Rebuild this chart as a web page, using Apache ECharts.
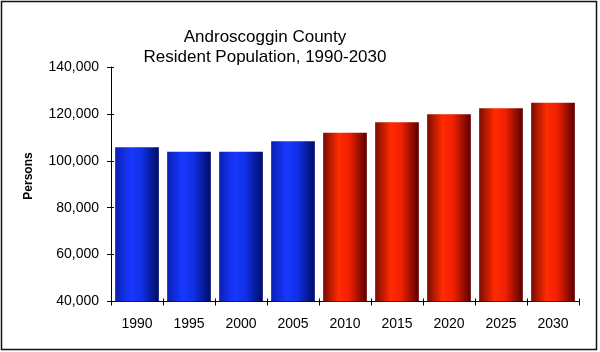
<!DOCTYPE html>
<html>
<head>
<meta charset="utf-8">
<script src="https://cdn.jsdelivr.net/npm/echarts@6/dist/echarts.min.js"></script>
<style>
  html, body { margin: 0; padding: 0; background: #fff; }
  #chart { width: 600px; height: 352px; }
</style>
</head>
<body>
<div id="chart"></div>
<script>
// Androscoggin County resident population, census and projections
const years = ['1990', '1995', '2000', '2005', '2010', '2015', '2020', '2025', '2030'];
const population = [105800, 103900, 103900, 108300, 112000, 116400, 119800, 122400, 124800];
// the first four years are estimates, the rest are projections
const projectedFrom = 4;
const yTicks = [40000, 60000, 80000, 100000, 120000, 140000];

const FONT = '"Liberation Sans", Arial, sans-serif';

const blueFill = new echarts.graphic.LinearGradient(0, 0, 1, 0, [
  { offset: 0, color: '#0b1fb4' },
  { offset: 0.35, color: '#1838ff' },
  { offset: 0.6, color: '#1230e6' },
  { offset: 1, color: '#000c66' }
]);
const redFill = new echarts.graphic.LinearGradient(0, 0, 1, 0, [
  { offset: 0, color: '#7a0c00' },
  { offset: 0.35, color: '#ff2a00' },
  { offset: 0.6, color: '#f02000' },
  { offset: 1, color: '#5a0000' }
]);

const barData = population.map((v, i) => ({
  value: v,
  itemStyle: { color: i < projectedFrom ? blueFill : redFill }
}));

const axisLine = { lineStyle: { color: '#000', width: 1 } };

const chart = echarts.init(document.getElementById('chart'), null, { renderer: 'canvas' });
chart.setOption({
  backgroundColor: '#fff',
  animation: false,
  title: {
    text: 'Androscoggin County\nResident Population, 1990-2030',
    left: 260,
    top: 22,
    textAlign: 'center',
    textStyle: { fontFamily: FONT, fontSize: 17, fontWeight: 'normal', color: '#000', lineHeight: 20 }
  },
  grid: { left: 111, right: 21, top: 67, bottom: 50.5, containLabel: false },
  xAxis: [
    {
      type: 'category',
      data: years,
      axisLine: axisLine,
      axisTick: { show: true, length: 4, lineStyle: { color: '#000' } },
      axisLabel: { fontFamily: FONT, fontSize: 14, color: '#000', margin: 16 }
    },
    {
      type: 'category',
      data: years,
      position: 'bottom',
      axisLine: { show: false },
      axisTick: { show: true, inside: true, length: 3, lineStyle: { color: '#000' } },
      axisLabel: { show: false }
    }
  ],
  yAxis: [
    {
      type: 'value',
      min: yTicks[0],
      max: yTicks[yTicks.length - 1],
      interval: yTicks[1] - yTicks[0],
      axisLine: { show: true, lineStyle: { color: '#000', width: 1 } },
      axisTick: { show: true, length: 4, lineStyle: { color: '#000' } },
      splitLine: { show: false },
      axisLabel: {
        fontFamily: FONT, fontSize: 14, color: '#000', margin: 12,
        formatter: v => v.toLocaleString('en-US')
      }
    },
    {
      type: 'value',
      position: 'left',
      min: yTicks[0],
      max: yTicks[yTicks.length - 1],
      interval: yTicks[1] - yTicks[0],
      axisLine: { show: false },
      axisTick: { show: true, inside: true, length: 3, lineStyle: { color: '#000' } },
      splitLine: { show: false },
      axisLabel: { show: false }
    }
  ],
  series: [
    {
      type: 'bar',
      data: barData,
      barCategoryGap: '16%',
      itemStyle: { borderWidth: 0 }
    }
  ],
  graphic: [
    {
      type: 'text',
      x: 29,
      y: 176,
      rotation: Math.PI / 2,
      style: {
        text: 'Persons',
        fontFamily: FONT, fontSize: 12, fontWeight: 'bold', fill: '#000',
        textAlign: 'center', textVerticalAlign: 'middle'
      }
    },
    {
      type: 'rect',
      shape: { x: 1.5, y: 1.5, width: 595, height: 348 },
      style: { fill: null, stroke: '#111', lineWidth: 1.5 },
      silent: true
    }
  ]
});
</script>
</body>
</html>
